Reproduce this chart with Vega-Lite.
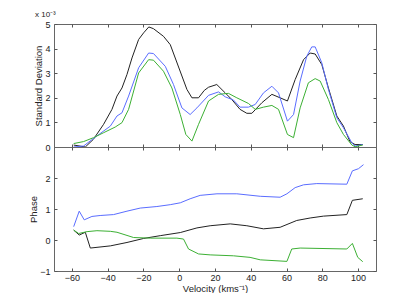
{
  "$schema": "https://vega.github.io/schema/vega-lite/v6.json",
  "padding": {"left": 28, "top": 10, "right": 0, "bottom": 0},
  "background": "white",
  "spacing": 0,
  "bounds": "flush",
  "config": {
    "view": {"stroke": "#666", "strokeWidth": 1},
    "axis": {
      "grid": false,
      "domain": false,
      "tickSize": -3,
      "tickColor": "#555",
      "labelFont": "Liberation Sans",
      "labelFontSize": 9,
      "labelColor": "#222",
      "labelPadding": 7,
      "titleFont": "Liberation Sans",
      "titleFontSize": 9.5,
      "titleFontWeight": "normal",
      "titleColor": "#222",
      "minExtent": 0
    },
    "title": {"font": "Liberation Sans", "fontSize": 8, "fontWeight": "normal", "color": "#222"},
    "line": {"strokeWidth": 1}
  },
  "datasets": {
    "sd": [
      {"v": -59, "y": 0.08, "s": "k"}, {"v": -52.5, "y": 0.0, "s": "k"}, {"v": -48, "y": 0.31, "s": "k"}, {"v": -42.3, "y": 0.92, "s": "k"}, {"v": -37.6, "y": 1.53, "s": "k"}, {"v": -34.8, "y": 2.07, "s": "k"}, {"v": -32, "y": 2.4, "s": "k"}, {"v": -29.2, "y": 2.95, "s": "k"}, {"v": -26.4, "y": 3.62, "s": "k"}, {"v": -22.7, "y": 4.37, "s": "k"}, {"v": -19.9, "y": 4.64, "s": "k"}, {"v": -17, "y": 4.88, "s": "k"}, {"v": -14.4, "y": 4.81, "s": "k"}, {"v": -8.8, "y": 4.5, "s": "k"}, {"v": -5, "y": 4.16, "s": "k"}, {"v": 4.3, "y": 2.34, "s": "k"}, {"v": 7.1, "y": 2.0, "s": "k"}, {"v": 10.8, "y": 2.0, "s": "k"}, {"v": 14, "y": 2.3, "s": "k"}, {"v": 16.4, "y": 2.43, "s": "k"}, {"v": 21, "y": 2.54, "s": "k"}, {"v": 25.7, "y": 2.2, "s": "k"}, {"v": 29.4, "y": 1.93, "s": "k"}, {"v": 34, "y": 1.53, "s": "k"}, {"v": 37.8, "y": 1.37, "s": "k"}, {"v": 40.6, "y": 1.37, "s": "k"}, {"v": 46.2, "y": 1.8, "s": "k"}, {"v": 51.8, "y": 2.14, "s": "k"}, {"v": 56.4, "y": 2.0, "s": "k"}, {"v": 60.5, "y": 1.87, "s": "k"}, {"v": 64.8, "y": 2.74, "s": "k"}, {"v": 69.5, "y": 3.55, "s": "k"}, {"v": 73.2, "y": 3.82, "s": "k"}, {"v": 76, "y": 3.78, "s": "k"}, {"v": 79.7, "y": 3.35, "s": "k"}, {"v": 83.4, "y": 2.4, "s": "k"}, {"v": 88.1, "y": 1.26, "s": "k"}, {"v": 91.8, "y": 0.85, "s": "k"}, {"v": 95.5, "y": 0.21, "s": "k"}, {"v": 98.3, "y": 0.1, "s": "k"}, {"v": 102.6, "y": 0.1, "s": "k"},
      {"v": -59, "y": 0.0, "s": "b"}, {"v": -53.5, "y": 0.04, "s": "b"}, {"v": -46, "y": 0.45, "s": "b"}, {"v": -38.5, "y": 0.85, "s": "b"}, {"v": -34.8, "y": 1.26, "s": "b"}, {"v": -32, "y": 1.39, "s": "b"}, {"v": -28.3, "y": 2.07, "s": "b"}, {"v": -22.7, "y": 3.22, "s": "b"}, {"v": -17.1, "y": 3.82, "s": "b"}, {"v": -14.4, "y": 3.8, "s": "b"}, {"v": -7.8, "y": 3.28, "s": "b"}, {"v": -3.2, "y": 2.54, "s": "b"}, {"v": 1.5, "y": 1.59, "s": "b"}, {"v": 6.1, "y": 1.32, "s": "b"}, {"v": 9.9, "y": 1.59, "s": "b"}, {"v": 16.4, "y": 2.1, "s": "b"}, {"v": 22, "y": 2.24, "s": "b"}, {"v": 25.7, "y": 2.04, "s": "b"}, {"v": 30.3, "y": 1.91, "s": "b"}, {"v": 34, "y": 1.62, "s": "b"}, {"v": 38.7, "y": 1.62, "s": "b"}, {"v": 42.5, "y": 1.73, "s": "b"}, {"v": 47.1, "y": 2.2, "s": "b"}, {"v": 51.8, "y": 2.47, "s": "b"}, {"v": 55.5, "y": 2.2, "s": "b"}, {"v": 60.5, "y": 1.05, "s": "b"}, {"v": 63.9, "y": 1.32, "s": "b"}, {"v": 67.6, "y": 2.68, "s": "b"}, {"v": 71.3, "y": 3.69, "s": "b"}, {"v": 74.1, "y": 4.07, "s": "b"}, {"v": 76, "y": 4.07, "s": "b"}, {"v": 79.7, "y": 3.42, "s": "b"}, {"v": 83.4, "y": 2.34, "s": "b"}, {"v": 88.1, "y": 1.19, "s": "b"}, {"v": 91.8, "y": 0.78, "s": "b"}, {"v": 96.5, "y": 0.17, "s": "b"}, {"v": 98.3, "y": 0.04, "s": "b"}, {"v": 102.6, "y": 0.1, "s": "b"},
      {"v": -59, "y": 0.14, "s": "g"}, {"v": -53.5, "y": 0.22, "s": "g"}, {"v": -47.9, "y": 0.38, "s": "g"}, {"v": -42.3, "y": 0.58, "s": "g"}, {"v": -35.8, "y": 0.81, "s": "g"}, {"v": -32, "y": 0.99, "s": "g"}, {"v": -28.3, "y": 1.53, "s": "g"}, {"v": -22.7, "y": 3.01, "s": "g"}, {"v": -17.1, "y": 3.55, "s": "g"}, {"v": -14.4, "y": 3.53, "s": "g"}, {"v": -8.8, "y": 3.08, "s": "g"}, {"v": -4.1, "y": 2.4, "s": "g"}, {"v": 0.6, "y": 1.32, "s": "g"}, {"v": 3.7, "y": 0.51, "s": "g"}, {"v": 7.1, "y": 0.24, "s": "g"}, {"v": 10.8, "y": 0.92, "s": "g"}, {"v": 16.4, "y": 1.87, "s": "g"}, {"v": 22, "y": 2.14, "s": "g"}, {"v": 27.5, "y": 2.18, "s": "g"}, {"v": 32.2, "y": 2.0, "s": "g"}, {"v": 38.7, "y": 1.77, "s": "g"}, {"v": 42.5, "y": 1.53, "s": "g"}, {"v": 47.1, "y": 1.62, "s": "g"}, {"v": 51.8, "y": 1.69, "s": "g"}, {"v": 55.5, "y": 1.53, "s": "g"}, {"v": 60.5, "y": 0.51, "s": "g"}, {"v": 63.9, "y": 0.38, "s": "g"}, {"v": 67.6, "y": 1.59, "s": "g"}, {"v": 72.2, "y": 2.61, "s": "g"}, {"v": 76, "y": 2.78, "s": "g"}, {"v": 78.8, "y": 2.68, "s": "g"}, {"v": 83.4, "y": 1.93, "s": "g"}, {"v": 88.1, "y": 0.99, "s": "g"}, {"v": 91.8, "y": 0.51, "s": "g"}, {"v": 96.5, "y": 0.08, "s": "g"}, {"v": 98.3, "y": 0.01, "s": "g"}, {"v": 102.6, "y": 0.08, "s": "g"}
    ],
    "phase": [
      {"v": -59, "y": 0.43, "s": "b"}, {"v": -55.9, "y": 0.93, "s": "b"}, {"v": -53.1, "y": 0.65, "s": "b"}, {"v": -48.8, "y": 0.76, "s": "b"}, {"v": -44.2, "y": 0.79, "s": "b"}, {"v": -36.7, "y": 0.82, "s": "b"}, {"v": -29.2, "y": 0.93, "s": "b"}, {"v": -21.8, "y": 1.03, "s": "b"}, {"v": -12.5, "y": 1.08, "s": "b"}, {"v": -5, "y": 1.14, "s": "b"}, {"v": 0.6, "y": 1.2, "s": "b"}, {"v": 6.1, "y": 1.33, "s": "b"}, {"v": 11.7, "y": 1.44, "s": "b"}, {"v": 21.1, "y": 1.49, "s": "b"}, {"v": 32.2, "y": 1.49, "s": "b"}, {"v": 45.3, "y": 1.41, "s": "b"}, {"v": 56.4, "y": 1.38, "s": "b"}, {"v": 60.2, "y": 1.49, "s": "b"}, {"v": 64.8, "y": 1.69, "s": "b"}, {"v": 69.5, "y": 1.78, "s": "b"}, {"v": 76.9, "y": 1.82, "s": "b"}, {"v": 93.7, "y": 1.8, "s": "b"}, {"v": 96.8, "y": 2.23, "s": "b"}, {"v": 100.2, "y": 2.3, "s": "b"}, {"v": 103, "y": 2.43, "s": "b"},
      {"v": -59, "y": 0.32, "s": "k"}, {"v": -55.9, "y": 0.16, "s": "k"}, {"v": -52.5, "y": 0.25, "s": "k"}, {"v": -49.7, "y": -0.26, "s": "k"}, {"v": -38.5, "y": -0.19, "s": "k"}, {"v": -29.2, "y": -0.08, "s": "k"}, {"v": -19.9, "y": 0.05, "s": "k"}, {"v": -10.6, "y": 0.14, "s": "k"}, {"v": 0.6, "y": 0.24, "s": "k"}, {"v": 9.9, "y": 0.39, "s": "k"}, {"v": 17.3, "y": 0.46, "s": "k"}, {"v": 28.5, "y": 0.52, "s": "k"}, {"v": 37.8, "y": 0.46, "s": "k"}, {"v": 47.1, "y": 0.36, "s": "k"}, {"v": 56.4, "y": 0.41, "s": "k"}, {"v": 65.7, "y": 0.63, "s": "k"}, {"v": 73.2, "y": 0.71, "s": "k"}, {"v": 80.6, "y": 0.77, "s": "k"}, {"v": 93.7, "y": 0.82, "s": "k"}, {"v": 96.8, "y": 1.28, "s": "k"}, {"v": 102.6, "y": 1.33, "s": "k"},
      {"v": -59, "y": 0.32, "s": "g"}, {"v": -56.2, "y": 0.21, "s": "g"}, {"v": -51.5, "y": 0.27, "s": "g"}, {"v": -46, "y": 0.3, "s": "g"}, {"v": -38.5, "y": 0.28, "s": "g"}, {"v": -34.8, "y": 0.25, "s": "g"}, {"v": -25.5, "y": 0.08, "s": "g"}, {"v": -16.2, "y": 0.06, "s": "g"}, {"v": -1.3, "y": 0.06, "s": "g"}, {"v": 2.4, "y": 0.03, "s": "g"}, {"v": 5.2, "y": -0.29, "s": "g"}, {"v": 10.8, "y": -0.45, "s": "g"}, {"v": 17.3, "y": -0.48, "s": "g"}, {"v": 30.3, "y": -0.51, "s": "g"}, {"v": 39.6, "y": -0.56, "s": "g"}, {"v": 45.3, "y": -0.64, "s": "g"}, {"v": 60.2, "y": -0.69, "s": "g"}, {"v": 62.9, "y": -0.29, "s": "g"}, {"v": 67.6, "y": -0.26, "s": "g"}, {"v": 93.7, "y": -0.29, "s": "g"}, {"v": 96.8, "y": -0.11, "s": "g"}, {"v": 99.8, "y": -0.56, "s": "g"}, {"v": 102.6, "y": -0.7, "s": "g"}
    ]
  },
  "vconcat": [
    {
      "width": 322,
      "height": 123,
      "title": {"text": "x 10⁻³", "anchor": "start", "offset": 1, "dx": 1},
      "data": {"name": "sd"},
      "layer": [
        {
          "mark": {"type": "line", "strokeWidth": 1},
          "encoding": {
            "x": {"field": "v", "type": "quantitative", "scale": {"domain": [-70, 110], "nice": false, "zero": false},
                  "axis": {"values": [-60, -40, -20, 0, 20, 40, 60, 80, 100], "labels": false, "labelPadding": 0, "title": null}},
            "y": {"field": "y", "type": "quantitative", "scale": {"domain": [0, 5], "nice": false},
                  "axis": {"values": [0, 1, 2, 3, 4, 5], "title": "Standard Deviation", "titlePadding": 1}},
            "color": {"field": "s", "type": "nominal", "legend": null,
                      "scale": {"domain": ["k", "b", "g"], "range": ["#222222", "#5a6dff", "#3cb034"]}}
          }
        },
        {
          "mark": {"type": "line", "opacity": 0},
          "encoding": {
            "x": {"field": "v", "type": "quantitative", "axis": {"orient": "top", "values": [-60, -40, -20, 0, 20, 40, 60, 80, 100], "labels": false, "labelPadding": 0, "title": null}},
            "y": {"field": "y", "type": "quantitative", "axis": {"orient": "right", "values": [0, 1, 2, 3, 4, 5], "labels": false, "labelPadding": 0, "title": null}},
            "detail": {"field": "s"}
          }
        }
      ],
      "resolve": {"axis": {"x": "independent", "y": "independent"}}
    },
    {
      "width": 322,
      "height": 124,
      "data": {"name": "phase"},
      "layer": [
        {
          "mark": {"type": "line", "strokeWidth": 1},
          "encoding": {
            "x": {"field": "v", "type": "quantitative", "scale": {"domain": [-70, 110], "nice": false, "zero": false},
                  "axis": {"values": [-60, -40, -20, 0, 20, 40, 60, 80, 100], "title": "Velocity (kms⁻¹)", "labelPadding": 5, "titlePadding": 1}},
            "y": {"field": "y", "type": "quantitative", "scale": {"domain": [-1, 3], "nice": false},
                  "axis": {"values": [-1, 0, 1, 2], "title": "Phase", "titlePadding": 1}},
            "color": {"field": "s", "type": "nominal", "legend": null,
                      "scale": {"domain": ["k", "b", "g"], "range": ["#222222", "#5a6dff", "#3cb034"]}}
          }
        },
        {
          "mark": {"type": "line", "opacity": 0},
          "encoding": {
            "x": {"field": "v", "type": "quantitative", "axis": {"orient": "top", "values": [-60, -40, -20, 0, 20, 40, 60, 80, 100], "labels": false, "labelPadding": 0, "title": null}},
            "y": {"field": "y", "type": "quantitative", "axis": {"orient": "right", "values": [-1, 0, 1, 2], "labels": false, "labelPadding": 0, "title": null}},
            "detail": {"field": "s"}
          }
        }
      ],
      "resolve": {"axis": {"x": "independent", "y": "independent"}}
    }
  ]
}
